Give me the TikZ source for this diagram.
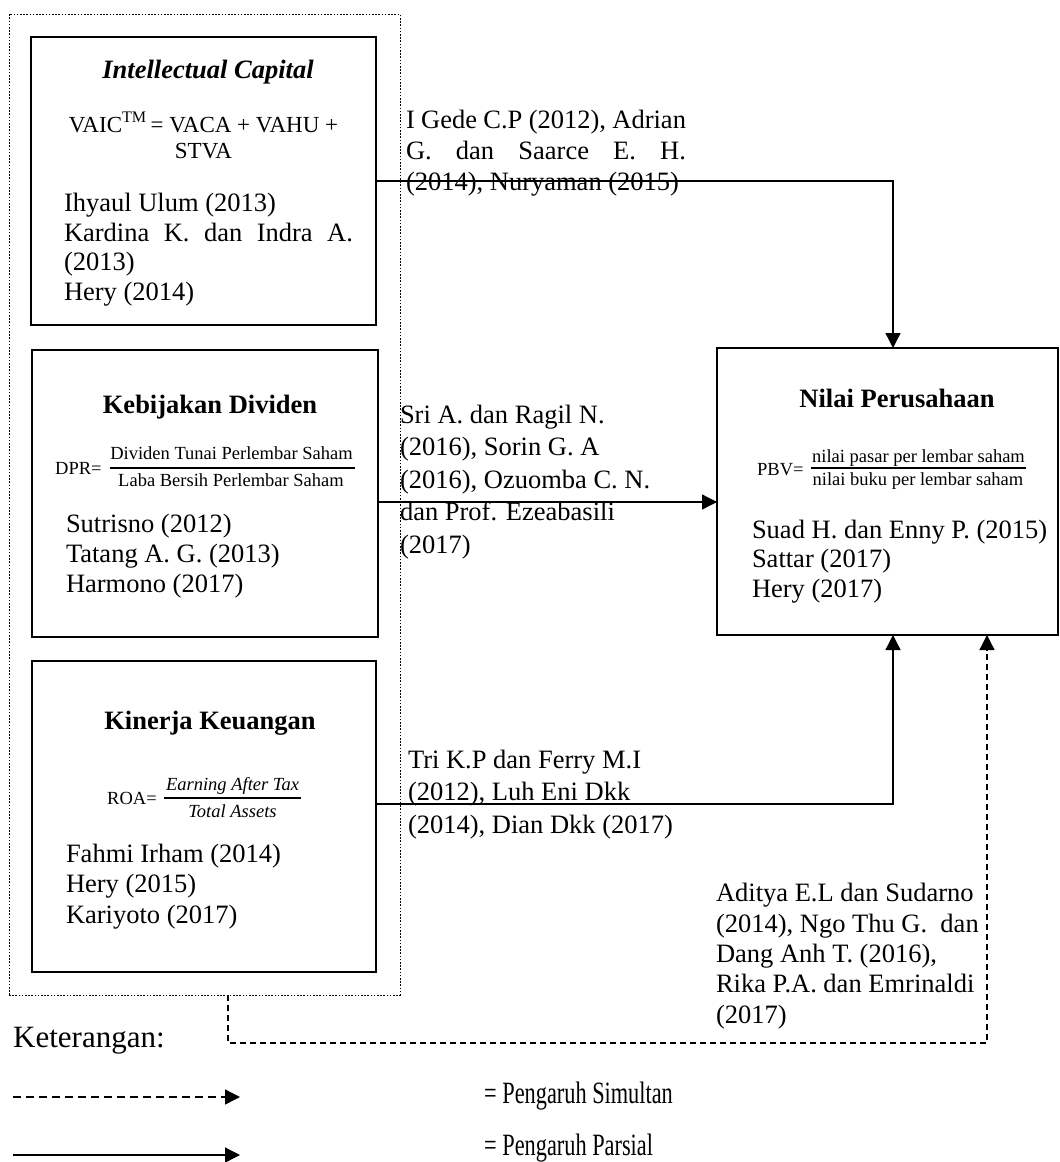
\documentclass[tikz,border=0pt]{standalone}
\usepackage{fontspec}
\setmainfont{Liberation Serif}
\usetikzlibrary{arrows.meta,calc}
\newcommand{\myfs}[2]{\fontsize{#1}{#2}\selectfont}
\begin{document}
\begin{tikzpicture}[x=1pt,y=-1pt,
  box/.style={draw,line width=2.6pt,rectangle,inner sep=0pt,outer sep=0pt},
  outerbox/.style={draw,line width=0.8pt,dash pattern=on 1.6pt off 1.6pt,rectangle,inner sep=0pt,outer sep=0pt},
  txt/.style={inner sep=0pt,outer sep=0pt,anchor=base west,align=left,font=\myfs{26.5}{30}},
  ttl/.style={inner sep=0pt,anchor=base,font=\myfs{26.5}{30}\bfseries},
  sm/.style={inner sep=0pt,anchor=base,font=\myfs{18.5}{22}},
  smi/.style={inner sep=0pt,anchor=base,font=\myfs{18.5}{22}\itshape},
  fracbar/.style={line width=2pt},
  conn/.style={line width=1.3pt,-{Triangle[length=15pt,width=15pt]}},
  dconn/.style={line width=1.3pt,dash pattern=on 6pt off 4pt,-{Triangle[length=15pt,width=15pt]}},
  dconnlg/.style={line width=1.3pt,dash pattern=on 8pt off 5pt,-{Triangle[length=15pt,width=15pt]}}
]
\useasboundingbox (0,0) rectangle (1060,1162);

% frames
\node[outerbox,minimum width=391pt,minimum height=981pt] (outer) at (204.5,504.5) {};
\node[box,minimum width=345pt,minimum height=288pt] (b1) at (203.5,181) {};
\node[box,minimum width=346pt,minimum height=287pt] (b2) at (205,493.5) {};
\node[box,minimum width=344pt,minimum height=311pt] (b3) at (204,816.5) {};
\node[box,minimum width=341pt,minimum height=287pt] (b4) at (887.5,491.5) {};

% box 1 (multi-line nodes are placed at the baseline of their last line)
\node[ttl,font=\myfs{26.5}{30}\bfseries\itshape] (t1) at (208,78) {Intellectual Capital};
\node[inner sep=0pt,anchor=base,align=center,font=\myfs{23}{26}] (f1) at (203.5,158) {VAIC\textsuperscript{TM}\,= VACA + VAHU +\\STVA};
\node[txt,font=\myfs{26.5}{29.5}] (r1) at (64,300) {Ihyaul Ulum (2013)\\\makebox[289pt][s]{Kardina K. dan Indra A.}\\(2013)\\Hery (2014)};

% box 2
\node[ttl] (t2) at (210,413) {Kebijakan Dividen};
\node[sm,anchor=base west] (p2) at (55,474) {DPR=};
\node[sm] (n2) at (231.5,459) {Dividen Tunai Perlembar Saham};
\node[sm] (d2) at (231,486) {Laba Bersih Perlembar Saham};
\draw[fracbar] (110,468) -- (355,468);
\node[txt] (r2) at (66,592) {Sutrisno (2012)\\Tatang A. G. (2013)\\Harmono (2017)};

% box 3
\node[ttl] (t3) at (210,729) {Kinerja Keuangan};
\node[sm,anchor=base west] (p3) at (107,804) {ROA=};
\node[smi] (n3) at (232.5,790) {Earning After Tax};
\node[smi] (d3) at (232.5,817) {Total Assets};
\draw[fracbar] (164,798) -- (301,798);
\node[txt,font=\myfs{26.5}{30.5}] (r3) at (66,923) {Fahmi Irham (2014)\\Hery (2015)\\Kariyoto (2017)};

% box 4
\node[ttl] (t4) at (897,407) {Nilai Perusahaan};
\node[sm,anchor=base west] (p4) at (757,475) {PBV=};
\node[sm] (n4) at (918.5,462) {nilai pasar per lembar saham};
\node[sm] (d4) at (918,485) {nilai buku per lembar saham};
\draw[fracbar] (811,468) -- (1026,468);
\node[txt,font=\myfs{26.5}{29.5}] (r4) at (752,597) {Suad H. dan Enny P. (2015)\\Sattar (2017)\\Hery (2017)};

% labels
\node[txt,font=\myfs{26.5}{31}] (l1) at (406,190) {\makebox[280pt][s]{I Gede C.P (2012), Adrian}\\\makebox[280pt][s]{G. dan Saarce E. H.}\\(2014), Nuryaman (2015)};
\node[txt,font=\myfs{26.5}{32.5}] (l2) at (400,553) {Sri A. dan Ragil N.\\(2016), Sorin G. A\\(2016), Ozuomba C. N.\\dan Prof. Ezeabasili\\(2017)};
\node[txt,font=\myfs{26.5}{32.5}] (l3) at (408,833) {Tri K.P dan Ferry M.I\\(2012), Luh Eni Dkk\\(2014), Dian Dkk (2017)};
\node[txt,font=\myfs{26.5}{30.3}] (l4) at (716,1023) {Aditya E.L dan Sudarno\\(2014), Ngo Thu G.\ \ dan\\Dang Anh T. (2016),\\Rika P.A. dan Emrinaldi\\(2017)};

% connectors
\coordinate (c1) at (893,181);
\draw[conn] (b1.east) -| (c1 |- b4.north);
\coordinate (c2) at (0,502);
\draw[conn] (b2.east |- c2) -- (b4.west |- c2);
\coordinate (c3) at (893,804);
\draw[conn] (b3.east |- c3) -| (c3 |- b4.south);
\coordinate (e1) at (228,1043);
\coordinate (e2) at (987,1043);
\draw[dconn] (outer.south -| e1) -- (e1) -- (e2) -- (e2 |- b4.south);

% legend
\node[inner sep=0pt,anchor=base west,font=\myfs{31}{34}] (ket) at (13,1047) {Keterangan:};
\coordinate (la1) at (13,1097);
\coordinate (la2) at (240,1097);
\draw[dconnlg] (la1) -- (la2);
\coordinate (lb1) at (13,1155);
\coordinate (lb2) at (240,1155);
\draw[conn] (lb1) -- (lb2);
\node[inner sep=0pt,anchor=base west,font=\myfs{31}{34}] (ls) at (484,1103) {\scalebox{0.72}[1]{= Pengaruh Simultan}};
\node[inner sep=0pt,anchor=base west,font=\myfs{31}{34}] (lp) at (484,1155) {\scalebox{0.72}[1]{= Pengaruh Parsial}};
\end{tikzpicture}
\end{document}
